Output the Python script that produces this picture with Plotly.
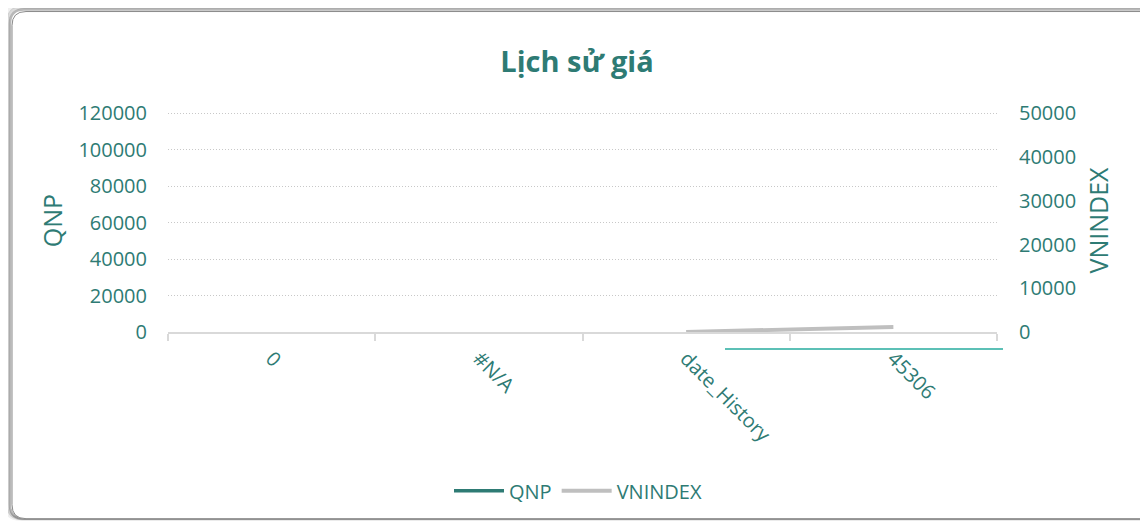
import plotly.graph_objects as go

# chart data
categories = ["0", "#N/A", "date_History", "45306"]
qnp = [None, None, None, None]
vnindex = [None, None, 0, 1170]

W, H = 1148, 521
OFF = 8                             # page body margin
L, R, T, B = 168, 997, 113, 332     # plot area in screen pixels (T = top tick)
PAD = 1.02                          # headroom so the top gridline is drawn
PT = B - (B - T) * PAD              # actual plot top
TEAL = "#2e7b74"
FONT = "Open Sans, Noto Sans, sans-serif"


def px(x):
    return (x - L) / (R - L)


def py(y):
    return (B - y) / (B - PT)


def rounded_rect(x0, y0, x1, y1, r):
    pts = [
        f"M {px(x0 + r)},{py(y0)}",
        f"L {px(x1 - r)},{py(y0)}",
        f"Q {px(x1)},{py(y0)} {px(x1)},{py(y0 + r)}",
        f"L {px(x1)},{py(y1 - r)}",
        f"Q {px(x1)},{py(y1)} {px(x1 - r)},{py(y1)}",
        f"L {px(x0 + r)},{py(y1)}",
        f"Q {px(x0)},{py(y1)} {px(x0)},{py(y1 - r)}",
        f"L {px(x0)},{py(y0 + r)}",
        f"Q {px(x0)},{py(y0)} {px(x0 + r)},{py(y0)} Z",
    ]
    return " ".join(pts)


fig = go.Figure()
fig.add_trace(go.Scatter(x=categories, y=qnp, name="QNP", mode="lines",
                         line=dict(color=TEAL, width=3.5)))
fig.add_trace(go.Scatter(x=categories, y=vnindex, name="VNINDEX", mode="lines", yaxis="y2",
                         line=dict(color="#bfbfbf", width=4)))

# card frame with a soft shadow on the top/left
shapes = []
for off, alpha, w in [(6, 0.06, 4), (4, 0.14, 3), (2, 0.28, 2.5)]:
    shapes.append(dict(type="path", xref="paper", yref="paper", layer="below",
                       path=rounded_rect(12 - off, 11 - off, 1160, 519, 14),
                       line=dict(color=f"rgba(0,0,0,{alpha})", width=w)))
shapes.append(dict(type="path", xref="paper", yref="paper", layer="below",
                   path=rounded_rect(12, 11, 1160, 519, 14),
                   fillcolor="white", line=dict(color="#8a8a8a", width=1)))
# stray light teal line under the axis
shapes.append(dict(type="line", xref="paper", yref="paper",
                   x0=px(725), x1=px(1003), y0=py(349), y1=py(349),
                   line=dict(color="#5cc0b6", width=2)))

fig.update_layout(
    width=W, height=H,
    margin=dict(l=L - OFF, r=W - (R - OFF), t=PT - OFF, b=H - (B - OFF), autoexpand=False),
    paper_bgcolor="white", plot_bgcolor="rgba(0,0,0,0)",
    font=dict(family=FONT, color=TEAL, size=20),
    title=dict(text="<b>Lịch sử giá</b>", x=(577 - OFF) / W, xref="container", xanchor="center",
               y=1 - (62 - OFF) / H, yref="container", yanchor="middle",
               font=dict(size=29, color=TEAL, family=FONT)),
    showlegend=True,
    legend=dict(orientation="h", x=px(578), xanchor="center", y=py(491), yanchor="middle",
                font=dict(size=20, color=TEAL), itemwidth=50),
    shapes=shapes,
    xaxis=dict(type="category", range=[-0.5, 3.5], showgrid=False,
               showline=True, linecolor="#d9d9d9", linewidth=2,
               ticks="outside", tickson="boundaries", ticklen=7, tickcolor="#d9d9d9", tickwidth=2,
               ticklabelstandoff=5, tickangle=45, tickfont=dict(size=20, color=TEAL)),
    yaxis=dict(range=[0, 120000 * PAD], tickvals=[0, 20000, 40000, 60000, 80000, 100000, 120000],
               showgrid=True, gridcolor="#c8c8c8", griddash="1px,2px",
               gridwidth=1, zeroline=False, showline=False, tickformat="d",
               ticklabelstandoff=20, tickfont=dict(size=20, color=TEAL),
               title=dict(text="QNP", standoff=8, font=dict(size=25, color=TEAL))),
    yaxis2=dict(range=[0, 50000 * PAD], tickvals=[0, 10000, 20000, 30000, 40000, 50000],
                overlaying="y", side="right", showgrid=False,
                zeroline=False, showline=False, tickformat="d",
                ticklabelstandoff=21, tickfont=dict(size=20, color=TEAL),
                title=dict(text="VNINDEX", standoff=15, font=dict(size=25, color=TEAL))),
)

fig.write_html("out.html")
